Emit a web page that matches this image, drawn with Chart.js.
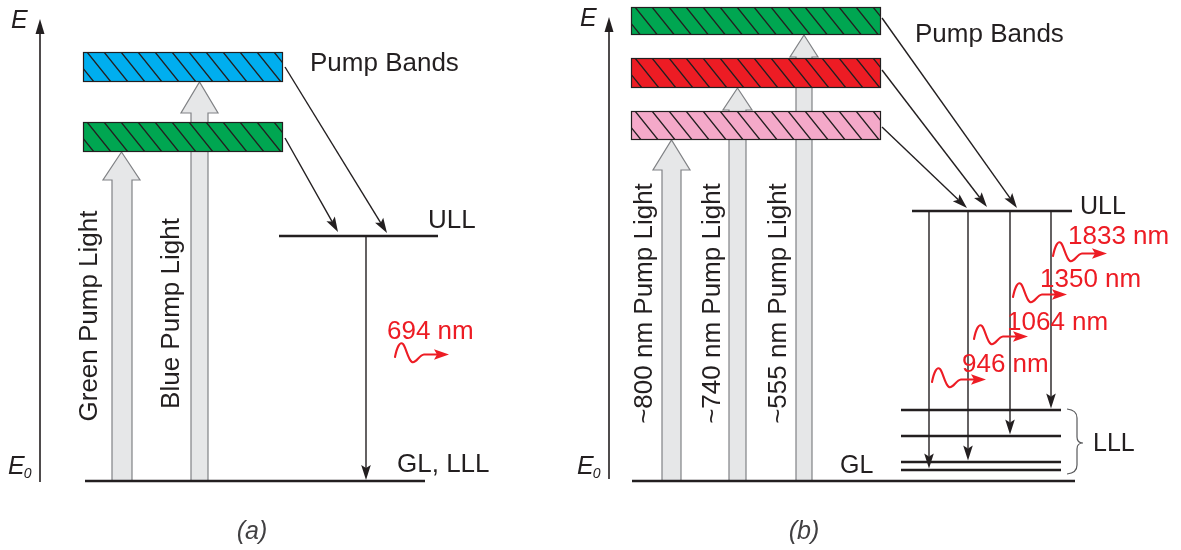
<!DOCTYPE html>
<html>
<head>
<meta charset="utf-8">
<script src="https://cdn.jsdelivr.net/npm/chart.js@4/dist/chart.umd.min.js"></script>
<style>
  html, body { margin: 0; padding: 0; background: #ffffff; }
  #wrap { width: 1181px; height: 550px; position: relative; }
</style>
</head>
<body>
<div id="wrap"><canvas id="diagram"></canvas></div>
<script>
// Energy is measured upward from the ground level E0 = 0 (diagram units).

// ---- Panel (a): three-level system ----
const levelsA = [0, 245];                       // ground (GL = LLL), upper laser level
const levelLabelsA = ['GL, LLL', 'ULL'];
const bandsA = [[329, 359], [399, 429]];        // green band, blue band (bottom, top)
const pumpLabelsA = ['Green Pump Light', 'Blue Pump Light'];
const pumpTargetsA = [329, 399];                // band each pump light reaches
const emissionA = ['694 nm'];

// ---- Panel (b): four-level system ----
const levelsB = [0, 11, 19, 45, 71, 270];       // ground, four LLL sublevels, ULL
const levelLabelsB = ['GL', 'LLL', 'ULL'];
const bandsB = [[341, 370], [393, 423], [446, 474]]; // pink, red, green bands
const pumpLabelsB = ['~800 nm Pump Light', '~740 nm Pump Light', '~555 nm Pump Light'];
const pumpTargetsB = [341, 393, 446];
const emissionB = ['946 nm', '1064 nm', '1350 nm', '1833 nm'];
const emissionLowerB = [11, 19, 45, 71];        // lower level reached by each line

const panelTitles = ['(a)', '(b)'];
const bandTitle = 'Pump Bands';

// ---- Drawing layout (x in pixels, y in energy units) ----
const INK = '#231f20';
const RED = '#ed1c24';
const FONT = '"Liberation Sans", Arial, Helvetica, sans-serif';

const layoutA = {
  axis: { x: 40, top: 462, bottom: -1 },
  levelX: [[85, 425], [279, 438]],
  bandX: [83, 283],
  bandColors: ['#00a651', '#00aeef'],
  pumps: [
    { shaft: [112, 132], head: [103, 140], headLen: 28 },
    { shaft: [191, 208], head: [181, 218], headLen: 31 }
  ],
  pumpText: [{ x: 97, e: 165 }, { x: 179, e: 167.5 }],
  feeds: [{ from: [285, 414], to: [387, 248] }, { from: [285, 343], to: [338, 249] }],
  decays: [{ x: 366, to: 1 }],
  levelText: [{ x: 397, e: 9 }, { x: 428, e: 253 }],
  bandText: { x: 310, e: 410 },
  photons: [{ x: 395, e: 124, tx: 387, te: 142 }],
  eLabel: { x: 11, e: 453 }, e0Label: { x: 8, e: 7 },
  title: { x: 252, e: -49 }
};

const layoutB = {
  axis: { x: 609, top: 464, bottom: 2 },
  levelX: [[632, 1075], [901, 1061], [901, 1061], [901, 1061], [901, 1061], [912, 1072]],
  bandX: [631, 881],
  bandColors: ['#f4a9c9', '#ed1c24', '#00a651'],
  pumps: [
    { shaft: [662, 681], head: [653, 690], headLen: 30 },
    { shaft: [729, 746], head: [723, 752], headLen: 22 },
    { shaft: [796, 812], head: [790, 818], headLen: 22 }
  ],
  pumpText: [{ x: 652, e: 177.5 }, { x: 720, e: 177.5 }, { x: 786, e: 177.5 }],
  feeds: [
    { from: [882, 354], to: [967, 273] },
    { from: [882, 411], to: [987, 274] },
    { from: [882, 463], to: [1017, 273] }
  ],
  decayX: [929, 968, 1010, 1051],
  levelText: [{ x: 840, e: 8 }, { x: 1093, e: 30 }, { x: 1080, e: 267 }],
  bandText: { x: 915, e: 439 },
  photons: [
    { x: 932, e: 99, tx: 962, te: 109 },
    { x: 974, e: 142, tx: 1007, te: 151 },
    { x: 1013, e: 184, tx: 1040, te: 194 },
    { x: 1053, e: 225, tx: 1068, te: 237 }
  ],
  brace: { x: 1067, top: 71, bottom: 8, tip: 38 },
  eLabel: { x: 580, e: 455 }, e0Label: { x: 577, e: 7 },
  title: { x: 804, e: -49 }
};

// Level lines are drawn as line datasets on the chart's own scales
function levelDatasets(levels, xs) {
  return levels.map((e, i) => ({
    data: [{ x: xs[i][0], y: e }, { x: xs[i][1], y: e }],
    showLine: true,
    borderColor: INK,
    borderWidth: 2.6,
    pointRadius: 0,
    borderCapStyle: 'butt'
  }));
}

// ---- drawing helpers ----
function arrowHead(ctx, tx, ty, ang, len, hw, notch) {
  const c = Math.cos(ang), s = Math.sin(ang);
  const bx = tx - c * len, by = ty - s * len;
  const nx = -s, ny = c;
  ctx.beginPath();
  ctx.moveTo(tx, ty);
  ctx.lineTo(bx + nx * hw, by + ny * hw);
  ctx.lineTo(tx - c * (len - notch), ty - s * (len - notch));
  ctx.lineTo(bx - nx * hw, by - ny * hw);
  ctx.closePath();
  ctx.fill();
}

function thinArrow(ctx, x0, y0, x1, y1) {
  const ang = Math.atan2(y1 - y0, x1 - x0);
  const len = 15, notch = 3;
  ctx.beginPath();
  ctx.moveTo(x0, y0);
  ctx.lineTo(x1 - Math.cos(ang) * (len - notch), y1 - Math.sin(ang) * (len - notch));
  ctx.stroke();
  arrowHead(ctx, x1, y1, ang, len, 4.8, notch);
}

function hatchBand(ctx, x0, x1, yTop, yBot, color) {
  ctx.save();
  ctx.fillStyle = color;
  ctx.fillRect(x0, yTop, x1 - x0, yBot - yTop);
  ctx.beginPath();
  ctx.rect(x0, yTop, x1 - x0, yBot - yTop);
  ctx.clip();
  const h = yBot - yTop, lean = h * 0.8, step = 17;
  ctx.strokeStyle = INK;
  ctx.lineWidth = 1.3;
  ctx.beginPath();
  for (let x = x0 + 4 - step * 3; x < x1 + step; x += step) {
    ctx.moveTo(x, yTop);
    ctx.lineTo(x + lean, yBot);
  }
  ctx.stroke();
  ctx.restore();
  ctx.strokeStyle = INK;
  ctx.lineWidth = 1.2;
  ctx.strokeRect(x0 + 0.5, yTop + 0.5, x1 - x0 - 1, yBot - yTop - 1);
}

function pumpArrow(ctx, p, yBottom, yTip) {
  const yBase = yTip + p.headLen;
  const xc = (p.head[0] + p.head[1]) / 2;
  ctx.beginPath();
  ctx.moveTo(p.shaft[0], yBottom);
  ctx.lineTo(p.shaft[0], yBase);
  ctx.lineTo(p.head[0], yBase);
  ctx.lineTo(xc, yTip);
  ctx.lineTo(p.head[1], yBase);
  ctx.lineTo(p.shaft[1], yBase);
  ctx.lineTo(p.shaft[1], yBottom);
  ctx.closePath();
  ctx.fillStyle = '#e6e7e8';
  ctx.fill();
  ctx.strokeStyle = '#808285';
  ctx.lineWidth = 1.2;
  ctx.stroke();
}

function photon(ctx, x, y) {
  ctx.save();
  ctx.translate(x, y);
  ctx.strokeStyle = RED;
  ctx.fillStyle = RED;
  ctx.lineWidth = 2.1;
  ctx.lineCap = 'round';
  ctx.beginPath();
  ctx.moveTo(0, 0);
  ctx.bezierCurveTo(2, -10, 5, -16, 8, -13);
  ctx.bezierCurveTo(11, -10, 13, 3, 17, 5);
  ctx.bezierCurveTo(21, 7, 24, -2, 29, -2.5);
  ctx.lineTo(42, -2.5);
  ctx.stroke();
  arrowHead(ctx, 54, -2.5, 0, 15, 5.2, 3);
  ctx.restore();
}

function rotatedText(ctx, text, x, y) {
  ctx.save();
  ctx.translate(x, y);
  ctx.rotate(-Math.PI / 2);
  ctx.textAlign = 'center';
  ctx.textBaseline = 'alphabetic';
  ctx.fillText(text, 0, 0);
  ctx.restore();
}

function energyAxis(ctx, px, py, L) {
  const x = px(L.axis.x);
  ctx.strokeStyle = INK;
  ctx.fillStyle = INK;
  ctx.lineWidth = 1.6;
  ctx.beginPath();
  ctx.moveTo(x, py(L.axis.bottom));
  ctx.lineTo(x, py(L.axis.top) + 10);
  ctx.stroke();
  arrowHead(ctx, x, py(L.axis.top), -Math.PI / 2, 15, 4.5, 0);

  ctx.textAlign = 'left';
  ctx.textBaseline = 'alphabetic';
  ctx.font = 'italic 25px ' + FONT;
  ctx.fillText('E', px(L.eLabel.x), py(L.eLabel.e));
  ctx.fillText('E', px(L.e0Label.x), py(L.e0Label.e));
  const w = ctx.measureText('E').width;
  ctx.font = 'italic 14px ' + FONT;
  ctx.fillText('0', px(L.e0Label.x) + w - 1, py(L.e0Label.e) + 4);
}

const diagramPlugin = {
  id: 'energyDiagram',
  beforeDatasetsDraw(chart) {
    const ctx = chart.ctx;
    const px = v => chart.scales.x.getPixelForValue(v);
    const py = v => chart.scales.y.getPixelForValue(v);
    ctx.save();
    // pump light arrows sit behind the bands
    layoutA.pumps.forEach((p, i) => pumpArrow(ctx,
      { shaft: p.shaft.map(px), head: p.head.map(px), headLen: p.headLen },
      py(levelsA[0]), py(pumpTargetsA[i])));
    layoutB.pumps.forEach((p, i) => pumpArrow(ctx,
      { shaft: p.shaft.map(px), head: p.head.map(px), headLen: p.headLen },
      py(levelsB[0]), py(pumpTargetsB[i])));
    // hatched pump bands
    bandsA.forEach((b, i) => hatchBand(ctx, px(layoutA.bandX[0]), px(layoutA.bandX[1]),
      py(b[1]), py(b[0]), layoutA.bandColors[i]));
    bandsB.forEach((b, i) => hatchBand(ctx, px(layoutB.bandX[0]), px(layoutB.bandX[1]),
      py(b[1]), py(b[0]), layoutB.bandColors[i]));
    ctx.restore();
  },
  afterDatasetsDraw(chart) {
    const ctx = chart.ctx;
    const px = v => chart.scales.x.getPixelForValue(v);
    const py = v => chart.scales.y.getPixelForValue(v);
    ctx.save();

    energyAxis(ctx, px, py, layoutA);
    energyAxis(ctx, px, py, layoutB);

    // relaxation from the pump bands into the ULL
    ctx.strokeStyle = INK;
    ctx.fillStyle = INK;
    ctx.lineWidth = 1.4;
    [...layoutA.feeds, ...layoutB.feeds].forEach(f =>
      thinArrow(ctx, px(f.from[0]), py(f.from[1]), px(f.to[0]), py(f.to[1])));

    // laser transitions
    layoutA.decays.forEach(d =>
      thinArrow(ctx, px(d.x), py(levelsA[1]), px(d.x), py(d.to)));
    const ullB = levelsB[levelsB.length - 1];
    layoutB.decayX.forEach((x, i) =>
      thinArrow(ctx, px(x), py(ullB), px(x), py(emissionLowerB[i] + 1.5)));

    // brace grouping the lower laser levels
    const br = layoutB.brace;
    const bx = px(br.x), yT = py(br.top), yB = py(br.bottom), yM = py(br.tip);
    ctx.strokeStyle = '#58595b';
    ctx.lineWidth = 1.2;
    ctx.beginPath();
    ctx.moveTo(bx, yT - 1);
    ctx.quadraticCurveTo(bx + 10, yT, bx + 10, yT + 8);
    ctx.lineTo(bx + 10, yM - 6);
    ctx.quadraticCurveTo(bx + 10, yM, bx + 16, yM);
    ctx.quadraticCurveTo(bx + 10, yM, bx + 10, yM + 6);
    ctx.lineTo(bx + 10, yB - 8);
    ctx.quadraticCurveTo(bx + 10, yB, bx, yB + 1);
    ctx.stroke();

    // emitted photons
    layoutA.photons.forEach(p => photon(ctx, px(p.x), py(p.e)));
    layoutB.photons.forEach(p => photon(ctx, px(p.x), py(p.e)));

    // labels
    ctx.textBaseline = 'alphabetic';
    ctx.textAlign = 'left';
    ctx.fillStyle = INK;
    ctx.font = '26px ' + FONT;
    ctx.fillText(bandTitle, px(layoutA.bandText.x), py(layoutA.bandText.e));
    ctx.fillText(bandTitle, px(layoutB.bandText.x), py(layoutB.bandText.e));
    levelLabelsA.forEach((t, i) => ctx.fillText(t, px(layoutA.levelText[i].x), py(layoutA.levelText[i].e)));
    ctx.font = '25px ' + FONT;
    levelLabelsB.forEach((t, i) => ctx.fillText(t, px(layoutB.levelText[i].x), py(layoutB.levelText[i].e)));

    ctx.font = '26px ' + FONT;
    pumpLabelsA.forEach((t, i) => rotatedText(ctx, t, px(layoutA.pumpText[i].x), py(layoutA.pumpText[i].e)));
    pumpLabelsB.forEach((t, i) => rotatedText(ctx, t, px(layoutB.pumpText[i].x), py(layoutB.pumpText[i].e)));

    ctx.fillStyle = RED;
    emissionA.forEach((t, i) => ctx.fillText(t, px(layoutA.photons[i].tx), py(layoutA.photons[i].te)));
    emissionB.forEach((t, i) => ctx.fillText(t, px(layoutB.photons[i].tx), py(layoutB.photons[i].te)));

    ctx.fillStyle = '#414042';
    ctx.font = 'italic 25px ' + FONT;
    ctx.textAlign = 'center';
    ctx.fillText(panelTitles[0], px(layoutA.title.x), py(layoutA.title.e) + 9);
    ctx.fillText(panelTitles[1], px(layoutB.title.x), py(layoutB.title.e) + 9);
    ctx.restore();
  }
};

new Chart(document.getElementById('diagram'), {
  type: 'scatter',
  data: {
    datasets: [
      ...levelDatasets(levelsA, layoutA.levelX),
      ...levelDatasets(levelsB, layoutB.levelX)
    ]
  },
  options: {
    responsive: true,
    maintainAspectRatio: false,
    animation: false,
    events: [],
    layout: { padding: 0, autoPadding: false },
    scales: {
      x: { type: 'linear', min: 0, max: 1181, display: false },
      y: { type: 'linear', min: -69, max: 481, display: false }
    },
    plugins: { legend: { display: false }, tooltip: { enabled: false } }
  },
  plugins: [diagramPlugin]
});
</script>
</body>
</html>
